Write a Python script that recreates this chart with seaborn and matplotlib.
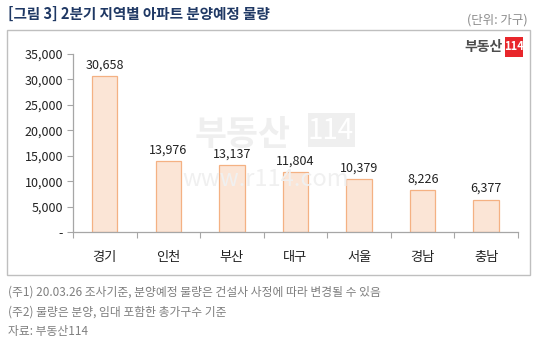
import matplotlib
matplotlib.use("Agg")
import matplotlib.pyplot as plt
import matplotlib.patches as mpatches
import seaborn as sns
import pandas as pd
from matplotlib.ticker import FuncFormatter, FixedLocator

regions = ["경기", "인천", "부산", "대구", "서울", "경남", "충남"]
units = [30658, 13976, 13137, 11804, 10379, 8226, 6377]
y_ticks = [0, 5000, 10000, 15000, 20000, 25000, 30000, 35000]

title = "[그림 3] 2분기 지역별 아파트 분양예정 물량"
unit_note = "(단위: 가구)"
notes = [
    "(주1) 20.03.26 조사기준, 분양예정 물량은 건설사 사정에 따라 변경될 수 있음",
    "(주2) 물량은 분양, 임대 포함한 총가구수 기준",
    "자료: 부동산114",
]

sns.set_theme(style="white")
plt.rcParams["font.family"] = ["Noto Sans CJK KR", "DejaVu Sans"]

df = pd.DataFrame({"region": regions, "units": units})

fig = plt.figure(figsize=(5.4, 3.42), dpi=100)
W, H = 540, 342

# outer frame around the chart body
frame = mpatches.Rectangle((7 / W, 1 - 275 / H), (530 - 7) / W, (275 - 30) / H,
                           transform=fig.transFigure, fill=False,
                           edgecolor="#bfbfbf", linewidth=1.0)
fig.patches.append(frame)

# faint watermark behind the plot
fig.text(243 / W, 1 - 134 / H, "부동산", ha="center", va="center",
         fontsize=25, fontweight="bold", color="#efefef", zorder=0)
wm_box = mpatches.Rectangle((308 / W, 1 - 147 / H), 47 / W, 34 / H,
                            transform=fig.transFigure, facecolor="#efefef",
                            edgecolor="none", zorder=0)
fig.patches.append(wm_box)
fig.text(331 / W, 1 - 131 / H, "114", ha="center", va="center",
         fontsize=20, color="white", zorder=0.5)
fig.text(266 / W, 1 - 180 / H, "www.r114.com", ha="center", va="center",
         fontsize=17, color="#f0f0f0", zorder=0)

ax = fig.add_axes([73 / W, 1 - 232 / H, (518 - 73) / W, (232 - 54) / H])
ax.patch.set_alpha(0)
sns.barplot(data=df, x="region", y="units", ax=ax, width=0.4,
            color="#fbe5d6", edgecolor="#f4b183", linewidth=0.9,
            saturation=1)

for i, v in enumerate(units):
    ax.text(i, v + 900, f"{v:,}", ha="center", va="bottom",
            fontsize=9, color="#222222")

ax.set_xlim(-0.5, len(regions) - 0.5)
ax.set_ylim(0, 35000)
ax.set_yticks(y_ticks)
ax.yaxis.set_major_formatter(FuncFormatter(lambda v, p: "-" if v == 0 else f"{int(v):,}"))
ax.set_xlabel("")
ax.set_ylabel("")

for s in ["top", "right"]:
    ax.spines[s].set_visible(False)
for s in ["left", "bottom"]:
    ax.spines[s].set_color("#a6a6a6")
    ax.spines[s].set_linewidth(0.9)

ax.tick_params(axis="y", which="major", left=True, length=4, width=0.8,
               color="#a6a6a6", labelsize=9, labelcolor="#222222", pad=3)
ax.tick_params(axis="x", which="major", bottom=False, labelsize=9.5,
               labelcolor="#222222", pad=8)
ax.xaxis.set_minor_locator(FixedLocator([i - 0.5 for i in range(len(regions) + 1)]))
ax.tick_params(axis="x", which="minor", bottom=True, length=4, width=0.8,
               color="#a6a6a6")

# headings
fig.text(8 / W, 1 - 14 / H, title, ha="left", va="center", fontsize=10.5,
         fontweight="bold", color="#1f3864")
fig.text(528 / W, 1 - 20 / H, unit_note, ha="right", va="center",
         fontsize=9, color="#8c8c8c")

# brand mark
fig.text(503 / W, 1 - 47 / H, "부동산", ha="right", va="center",
         fontsize=10, fontweight="bold", color="#4d4d4d")
logo = mpatches.Rectangle((505 / W, 1 - 57 / H), 18 / W, 20 / H,
                          transform=fig.transFigure, facecolor="#e8262b",
                          edgecolor="none")
fig.patches.append(logo)
fig.text(514 / W, 1 - 47 / H, "114", ha="center", va="center",
         fontsize=8, fontweight="bold", color="white")

for k, line in enumerate(notes):
    fig.text(8 / W, 1 - (292 + 20 * k) / H, line, ha="left", va="center",
             fontsize=8.5, color="#7f7f7f")

fig.savefig("out.png", dpi=100)
